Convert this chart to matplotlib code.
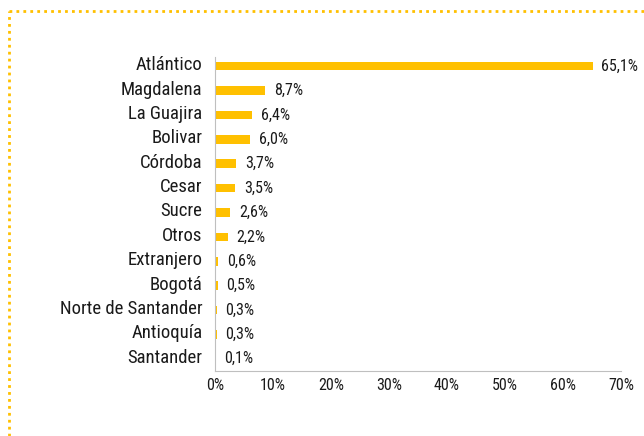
import matplotlib
matplotlib.use("Agg")
from matplotlib import pyplot as plt
from matplotlib.lines import Line2D
from matplotlib.ticker import FuncFormatter
from matplotlib.transforms import ScaledTranslation

## DATA
regiones = ["Atlántico", "Magdalena", "La Guajira", "Bolivar", "Córdoba", "Cesar",
            "Sucre", "Otros", "Extranjero", "Bogotá", "Norte de Santander",
            "Antioquía", "Santander"]
porcentajes = [65.1, 8.7, 6.4, 6.0, 3.7, 3.5, 2.6, 2.2, 0.6, 0.5, 0.3, 0.3, 0.1]

oro = "#FFC000"
plt.rcParams['font.family'] = ['Roboto Condensed', 'Open Sans Condensed',
                               'Liberation Sans Narrow', 'Roboto', 'DejaVu Sans']
plt.rcParams['font.stretch'] = 'condensed'

fig = plt.figure(figsize=(6.44, 4.36), dpi=100)
ax = fig.add_axes([215/644, 1 - 371/436, 406/644, 317/436])

ys = list(range(len(regiones)))
ax.barh(ys, porcentajes, height=0.35, color=oro)
ax.set_ylim(len(regiones) - 0.5, -0.5)
ax.set_xlim(0, 70)
ax.set_xticks(range(0, 71, 10))
ax.xaxis.set_major_formatter(FuncFormatter(lambda v, p: f"{v:.0f}%"))
ax.set_yticks(ys)
ax.set_yticklabels(regiones, fontsize=13.5, color="#1a1a1a")
ax.tick_params(axis="x", length=0, labelsize=11.5, colors="#1a1a1a", pad=5)
ax.tick_params(axis="y", length=0, pad=9)

# category labels sit a little above the bars in the original
desplaza = ScaledTranslation(0, 3/100, fig.dpi_scale_trans)
for lab in ax.get_yticklabels():
    lab.set_transform(lab.get_transform() + desplaza)

for s in ["top", "right"]:
    ax.spines[s].set_visible(False)
for s in ["left", "bottom"]:
    ax.spines[s].set_color("#BFBFBF")
ax.spines["left"].set_bounds(len(regiones) - 0.5, -0.37)

for y, v in zip(ys, porcentajes):
    ax.text(v + 1.5, y, f"{v:.1f}%".replace(".", ","), va="center", ha="left",
            fontsize=11.5, color="#1a1a1a")

## dotted frame
fig.add_artist(Line2D([9/644, 9/644], [0, 1 - 11/436], color=oro, lw=2,
                      linestyle=(0, (1, 1.5)), transform=fig.transFigure))
fig.add_artist(Line2D([9/644, 1], [1 - 11/436, 1 - 11/436], color=oro, lw=2,
                      linestyle=(0, (1, 1.5)), transform=fig.transFigure))

fig.savefig("out.png", dpi=100)
